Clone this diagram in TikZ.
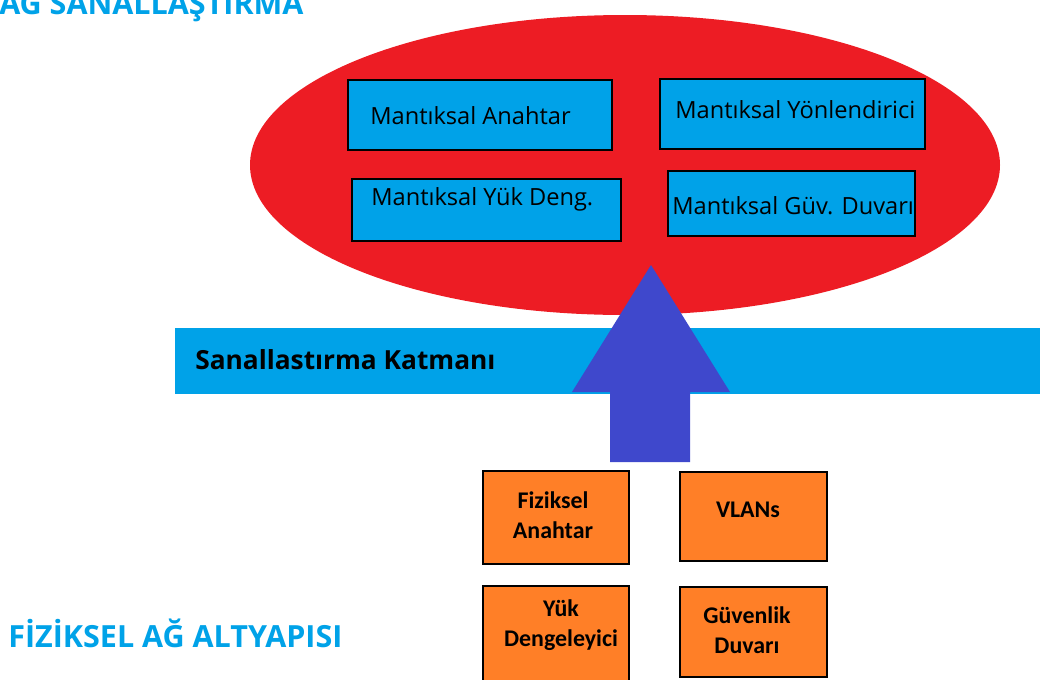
\documentclass[tikz,border=0pt]{standalone}
\usepackage{fontspec}
\setmainfont{Carlito}
\newfontfamily\osans{Open Sans}
\usepackage{xcolor}
\definecolor{agred}{RGB}{237,28,36}
\definecolor{agblue}{RGB}{0,162,232}
\definecolor{agarrow}{RGB}{63,72,204}
\definecolor{agorange}{RGB}{255,127,39}
\usepackage{tikz}
\usetikzlibrary{positioning}

\begin{document}
\begin{tikzpicture}[x=0.025cm, y=-0.025cm,
  lbox/.style={draw=black, line width=1.1pt, fill=agblue, inner sep=0pt},
  ltext/.style={anchor=west, inner sep=0pt, font=\osans\fontsize{16.8}{20}\selectfont},
  pbox/.style={draw=black, line width=1.1pt, fill=agorange, inner sep=0pt},
  ptext/.style={align=center, inner sep=0pt, font=\fontsize{17}{21.5}\selectfont\bfseries},
  title/.style={anchor=base west, inner sep=0pt, text=agblue, font=\osans\fontsize{21.7}{25}\selectfont\bfseries}]
  \useasboundingbox (0,0) rectangle (1040,679);
  \clip (0,0) rectangle (1040,679);

  % Virtual network cloud
  \fill[agred] (625,165) ellipse [x radius=375, y radius=150];
  \node[title] (vtitle) at (-1,14) {AĞ SANALLAŞTIRMA};

  % Logical devices
  \node[lbox, minimum width=6.6cm, minimum height=1.75cm] (lswitch) at (480,115) {};
  \node[ltext] (lswitchtxt) at (370,116) {Mantıksal Anahtar};
  \node[lbox, minimum width=6.625cm, minimum height=1.75cm] (lrouter) at (792.5,114) {};
  \node[ltext] (lroutertxt) at (675,110) {Mantıksal Yönlendirici};
  \node[lbox, minimum width=6.725cm, minimum height=1.55cm] (llb) at (486.5,210) {};
  \node[ltext] (llbtxt) at (371,199) {Mantıksal Yük Deng.};
  \node[lbox, minimum width=6.175cm, minimum height=1.625cm] (lfw) at (791.5,203.5) {};
  \node[ltext] (lfwtxt) at (672,206) {Mantıksal Güv. Duvarı};

  % Virtualization layer
  \fill[agblue] (175,328) rectangle (1040,394);
  \node[anchor=west, inner sep=0pt, font=\osans\fontsize{18.7}{23}\selectfont\bfseries] (layer) at (195,360) {Sanallastırma Katmanı};

  % Upward arrow
  \fill[agarrow] (651,265) -- (730,392) -- (690,392) -- (690,462) --
    (610,462) -- (610,392) -- (572,392) -- cycle;

  % Physical devices
  \node[pbox, minimum width=3.65cm, minimum height=2.325cm] (pswitch) at (556,517.5) {};
  \node[ptext] at (553,515) {Fiziksel\\Anahtar};
  \node[pbox, minimum width=3.675cm, minimum height=2.225cm] (vlans) at (753.5,516.5) {};
  \node[ptext] at (748,510) {VLANs};
  \node[pbox, minimum width=3.65cm, minimum height=2.4cm] (plb) at (556,634) {};
  \node[ptext] at (561,625) {Yük\\Dengeleyici};
  \node[pbox, minimum width=3.675cm, minimum height=2.25cm] (pfw) at (753.5,632) {};
  \node[ptext] at (747,630) {Güvenlik\\Duvarı};

  \node[title] (ptitle) at (8,647) {FİZİKSEL AĞ ALTYAPISI};
\end{tikzpicture}
\end{document}
